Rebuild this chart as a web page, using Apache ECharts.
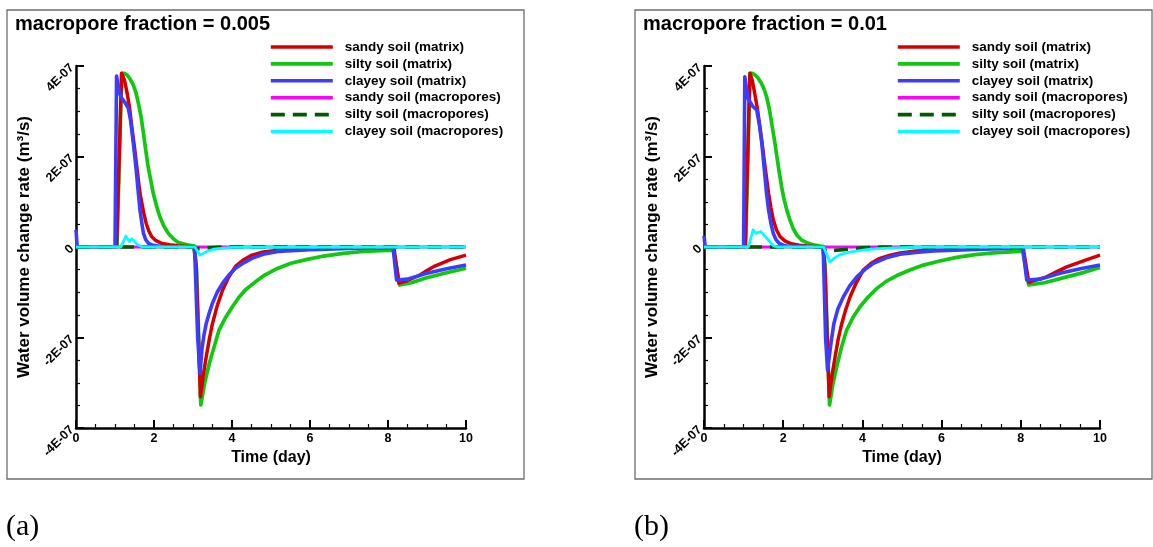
<!DOCTYPE html>
<html>
<head>
<meta charset="utf-8">
<title>Water volume change rate</title>
<script src="https://cdn.jsdelivr.net/npm/echarts@6/dist/echarts.min.js"></script>
<style>
  html, body { margin: 0; padding: 0; background: #ffffff; }
  #chart { width: 1153px; height: 547px; }
</style>
</head>
<body>
<div id="chart"></div>
<script>
// Values are [time (day), rate in units of 1E-07 m³/s]

// ---- (a) macropore fraction = 0.005 ----
const sandyMatrixA = [[0,0],[1.04,0],[1.17,3.84],[1.24,3.70],[1.30,3.45],[1.37,3.10],[1.43,2.66],[1.50,2.20],[1.56,1.77],[1.60,1.47],[1.64,1.19],[1.69,0.96],[1.73,0.78],[1.80,0.52],[1.87,0.35],[1.94,0.23],[2.05,0.14],[2.2,0.08],[2.4,0.05],[2.6,0.03],[3.02,0],[3.08,-0.4],[3.19,-3.31],[3.26,-2.85],[3.34,-2.42],[3.42,-2.03],[3.50,-1.69],[3.62,-1.30],[3.76,-0.95],[3.92,-0.66],[4.09,-0.43],[4.30,-0.28],[4.51,-0.18],[4.80,-0.11],[5.18,-0.07],[6.0,-0.04],[7.0,-0.02],[8.15,-0.01],[8.28,-0.80],[8.5,-0.74],[8.8,-0.63],[9.0,-0.52],[9.2,-0.42],[9.6,-0.28],[10,-0.18]];
const siltyMatrixA = [[0,0],[1.05,0],[1.17,3.84],[1.23,3.84],[1.30,3.81],[1.38,3.72],[1.47,3.58],[1.54,3.40],[1.60,3.18],[1.67,2.87],[1.73,2.51],[1.79,2.13],[1.85,1.77],[1.92,1.46],[1.98,1.19],[2.06,0.92],[2.15,0.67],[2.25,0.47],[2.37,0.30],[2.50,0.18],[2.62,0.10],[2.75,0.07],[2.90,0.04],[3.04,0.02],[3.09,-0.5],[3.20,-3.49],[3.30,-3.00],[3.42,-2.57],[3.55,-2.18],[3.67,-1.83],[3.84,-1.55],[4.01,-1.32],[4.17,-1.12],[4.34,-0.95],[4.60,-0.77],[4.84,-0.62],[5.15,-0.48],[5.51,-0.36],[5.90,-0.28],[6.35,-0.20],[6.85,-0.14],[7.36,-0.10],[8.14,-0.07],[8.30,-0.84],[8.6,-0.79],[8.95,-0.69],[9.5,-0.57],[10,-0.47]];
const clayeyMatrixA = [[0,0.38],[0.03,0],[1.0,0],[1.04,3.78],[1.10,3.45],[1.15,3.32],[1.25,3.20],[1.34,3.07],[1.40,2.80],[1.47,2.29],[1.52,1.90],[1.56,1.55],[1.60,1.18],[1.64,0.82],[1.69,0.52],[1.73,0.30],[1.79,0.16],[1.86,0.08],[2.0,0.03],[2.2,0.01],[3.04,0],[3.12,-2.0],[3.18,-2.79],[3.23,-2.25],[3.28,-1.95],[3.34,-1.69],[3.42,-1.45],[3.50,-1.24],[3.62,-1.00],[3.76,-0.80],[3.92,-0.62],[4.09,-0.47],[4.30,-0.35],[4.51,-0.25],[4.80,-0.16],[5.18,-0.10],[6.0,-0.06],[7.0,-0.03],[8.13,-0.02],[8.22,-0.73],[8.5,-0.71],[8.95,-0.59],[9.5,-0.48],[10,-0.40]];
const sandyMacroA = [[0,0],[10,0]];
const siltyMacroA = [[0,0],[3.0,0],[3.1,-0.04],[3.4,-0.02],[3.8,0],[10,0]];
const clayeyMacroA = [[0,0],[1.15,0],[1.28,0.24],[1.37,0.12],[1.43,0.18],[1.50,0.12],[1.58,0.05],[1.71,0],[3.05,0],[3.18,-0.18],[3.35,-0.10],[3.52,-0.05],[4.0,-0.01],[10,0]];

// ---- (b) macropore fraction = 0.01 ----
const sandyMatrixB = [[0,0],[1.04,0],[1.16,3.84],[1.22,3.68],[1.28,3.40],[1.35,3.05],[1.41,2.66],[1.47,2.28],[1.52,1.92],[1.58,1.52],[1.63,1.19],[1.69,0.86],[1.75,0.60],[1.83,0.38],[1.92,0.23],[2.05,0.13],[2.21,0.07],[2.4,0.04],[2.6,0.02],[3.0,0],[3.05,-0.4],[3.16,-3.31],[3.23,-2.85],[3.31,-2.43],[3.39,-2.03],[3.48,-1.69],[3.58,-1.38],[3.69,-1.10],[3.85,-0.78],[4.02,-0.51],[4.22,-0.36],[4.44,-0.25],[4.70,-0.18],[4.95,-0.13],[5.35,-0.09],[5.8,-0.07],[7.0,-0.03],[8.06,-0.01],[8.2,-0.78],[8.65,-0.66],[8.9,-0.55],[9.16,-0.44],[9.6,-0.30],[10,-0.18]];
const siltyMatrixB = [[0,0],[1.05,0],[1.16,3.84],[1.22,3.84],[1.28,3.81],[1.36,3.74],[1.45,3.62],[1.52,3.48],[1.58,3.32],[1.65,3.05],[1.71,2.73],[1.78,2.36],[1.84,2.00],[1.90,1.65],[1.96,1.33],[2.02,1.06],[2.09,0.82],[2.17,0.60],[2.25,0.41],[2.35,0.26],[2.47,0.15],[2.58,0.10],[2.68,0.07],[2.80,0.04],[2.93,0.02],[3.02,0.01],[3.06,-0.5],[3.17,-3.49],[3.25,-3.05],[3.35,-2.65],[3.47,-2.22],[3.60,-1.84],[3.76,-1.56],[3.94,-1.32],[4.14,-1.11],[4.36,-0.92],[4.60,-0.76],[4.87,-0.63],[5.20,-0.51],[5.54,-0.40],[5.95,-0.31],[6.38,-0.23],[6.85,-0.17],[7.31,-0.13],[8.05,-0.09],[8.2,-0.84],[8.6,-0.79],[9.16,-0.66],[9.6,-0.56],[10,-0.45]];
const clayeyMatrixB = [[0,0.25],[0.03,0],[1.0,0],[1.03,3.76],[1.08,3.45],[1.11,3.29],[1.18,3.18],[1.24,3.10],[1.33,3.03],[1.40,2.70],[1.46,2.29],[1.50,1.92],[1.54,1.55],[1.58,1.18],[1.63,0.82],[1.69,0.52],[1.75,0.30],[1.82,0.16],[1.90,0.08],[2.0,0.04],[2.1,0.02],[3.01,0],[3.07,-2.0],[3.12,-2.72],[3.16,-2.45],[3.21,-2.10],[3.28,-1.69],[3.38,-1.37],[3.52,-1.10],[3.68,-0.86],[3.86,-0.66],[4.06,-0.50],[4.28,-0.36],[4.60,-0.24],[4.95,-0.16],[5.35,-0.12],[5.79,-0.09],[7.05,-0.05],[8.05,-0.02],[8.15,-0.73],[8.5,-0.71],[8.99,-0.58],[9.5,-0.48],[10,-0.40]];
const sandyMacroB = [[0,0],[10,0]];
const siltyMacroB = [[0,0],[3.0,0],[3.08,-0.09],[3.5,-0.06],[4.0,-0.02],[4.5,0],[10,0]];
const clayeyMacroB = [[0,0],[1.12,0],[1.24,0.38],[1.31,0.30],[1.36,0.34],[1.43,0.34],[1.50,0.28],[1.63,0.15],[1.75,0.03],[1.85,0],[3.02,0],[3.18,-0.33],[3.30,-0.24],[3.41,-0.18],[3.58,-0.13],[3.75,-0.10],[4.1,-0.06],[4.5,-0.03],[5.5,0],[10,0]];

const seriesNames = ['sandy soil (matrix)', 'silty soil (matrix)', 'clayey soil (matrix)',
                     'sandy soil (macropores)', 'silty soil (macropores)', 'clayey soil (macropores)'];
const panelTitles = ['macropore fraction = 0.005', 'macropore fraction = 0.01'];
const panelTags = ['(a)', '(b)'];
const xTicks = { min: 0, max: 10, interval: 2 };
const yTicks = { min: -4, max: 4, interval: 2 };

const panels = [
  { sandy: sandyMatrixA, silty: siltyMatrixA, clayey: clayeyMatrixA, sandyM: sandyMacroA, siltyM: siltyMacroA, clayeyM: clayeyMacroA },
  { sandy: sandyMatrixB, silty: siltyMatrixB, clayey: clayeyMatrixB, sandyM: sandyMacroB, siltyM: siltyMacroB, clayeyM: clayeyMacroB }
];

const FONT = 'Liberation Sans, Arial, sans-serif';
const grids = [
  { left: 76, top: 66, width: 390, height: 362 },
  { left: 704, top: 66, width: 396, height: 362 }
];
const frames = [
  { x: 7, y: 10, w: 517, h: 469 },
  { x: 635, y: 10, w: 517, h: 469 }
];

function yLabel(v) {
  if (v === 0) return '0';
  return v + 'E-07';
}

const xAxes = grids.map((g, i) => ({
  type: 'value', gridIndex: i, min: xTicks.min, max: xTicks.max, interval: xTicks.interval,
  name: 'Time (day)', nameLocation: 'middle', nameGap: 20,
  nameTextStyle: { fontFamily: FONT, fontWeight: 'bold', fontSize: 16, color: '#000' },
  axisLine: { show: true, onZero: false, lineStyle: { color: '#000', width: 2.5 } },
  axisTick: { show: true, inside: true, length: 8, lineStyle: { color: '#000', width: 2 } },
  minorTick: { show: true, splitNumber: 4, length: 4, lineStyle: { color: '#000', width: 1.2 } },
  axisLabel: { fontFamily: FONT, fontWeight: 'bold', fontSize: 12.5, color: '#000', margin: 4 },
  splitLine: { show: false }
}));

const yAxes = grids.map((g, i) => ({
  type: 'value', gridIndex: i, min: yTicks.min, max: yTicks.max, interval: yTicks.interval,
  name: 'Water volume change rate (m³/s)', nameLocation: 'middle', nameGap: 43,
  nameTextStyle: { fontFamily: FONT, fontWeight: 'bold', fontSize: 17, color: '#000' },
  axisLine: { show: true, onZero: false, lineStyle: { color: '#000', width: 2.5 } },
  axisTick: { show: true, inside: true, length: 8, lineStyle: { color: '#000', width: 2 } },
  minorTick: { show: true, splitNumber: 4, length: 4, lineStyle: { color: '#000', width: 1.2 } },
  axisLabel: { fontFamily: FONT, fontWeight: 'bold', fontSize: 12.5, color: '#000', margin: 4, rotate: 45, formatter: yLabel },
  splitLine: { show: false }
}));

// drawing order: silty, sandy, clayey, then macropore curves on top
const styles = {
  sandy:   { name: seriesNames[0], color: '#d40000', width: 3.5, type: 'solid' },
  silty:   { name: seriesNames[1], color: '#10c810', width: 3.7, type: 'solid' },
  clayey:  { name: seriesNames[2], color: '#3c3cff', width: 3.6, type: 'solid' },
  sandyM:  { name: seriesNames[3], color: '#ff00ff', width: 2.8, type: 'solid' },
  siltyM:  { name: seriesNames[4], color: '#005a00', width: 3.6, type: [14, 8] },
  clayeyM: { name: seriesNames[5], color: '#00ffff', width: 2.8, type: 'solid' }
};
const drawOrder = ['silty', 'sandy', 'clayey', 'sandyM', 'siltyM', 'clayeyM'];
const legendKeys = ['sandy', 'silty', 'clayey', 'sandyM', 'siltyM', 'clayeyM'];

const series = [];
panels.forEach((p, i) => {
  drawOrder.forEach(key => {
    const s = styles[key];
    series.push({
      type: 'line', name: s.name, xAxisIndex: i, yAxisIndex: i,
      data: p[key], symbol: 'none', smooth: false,
      color: s.color,
      lineStyle: { color: s.color, width: s.width, type: s.type, cap: 'butt', join: 'round' },
      animation: false
    });
  });
});

const legends = [
  { left: 269, top: 40 },
  { left: 896, top: 40 }
].map(pos => ({
  data: legendKeys.map(k => ({
    name: styles[k].name,
    lineStyle: { color: styles[k].color, width: 3.6, type: styles[k].type }
  })),
  orient: 'vertical', left: pos.left, top: pos.top, padding: 0,
  itemWidth: 62, itemHeight: 14, itemGap: 2.9,
  itemStyle: { opacity: 0 },
  selectedMode: false,
  textStyle: { fontFamily: FONT, fontWeight: 'bold', fontSize: 13.5, color: '#000', padding: [0, 0, 0, 7] }
}));

const graphic = [];
frames.forEach((f, i) => {
  graphic.push({ type: 'rect', shape: { x: f.x, y: f.y, width: f.w, height: f.h },
    style: { fill: 'none', stroke: '#6e6e6e', lineWidth: 1.3 }, silent: true, z: -1 });
  graphic.push({ type: 'text', left: f.x + 8, top: 14,
    style: { text: panelTitles[i], font: 'bold 20px ' + FONT, fill: '#000' } });
  graphic.push({ type: 'text', left: f.x - 1, top: 512,
    style: { text: panelTags[i], font: '30px Liberation Serif, Times New Roman, serif', fill: '#000' } });
});

const chart = echarts.init(document.getElementById('chart'), null, { renderer: 'canvas' });
chart.setOption({
  backgroundColor: '#ffffff',
  animation: false,
  grid: grids,
  xAxis: xAxes,
  yAxis: yAxes,
  legend: legends,
  series: series,
  graphic: graphic
});
</script>
</body>
</html>
